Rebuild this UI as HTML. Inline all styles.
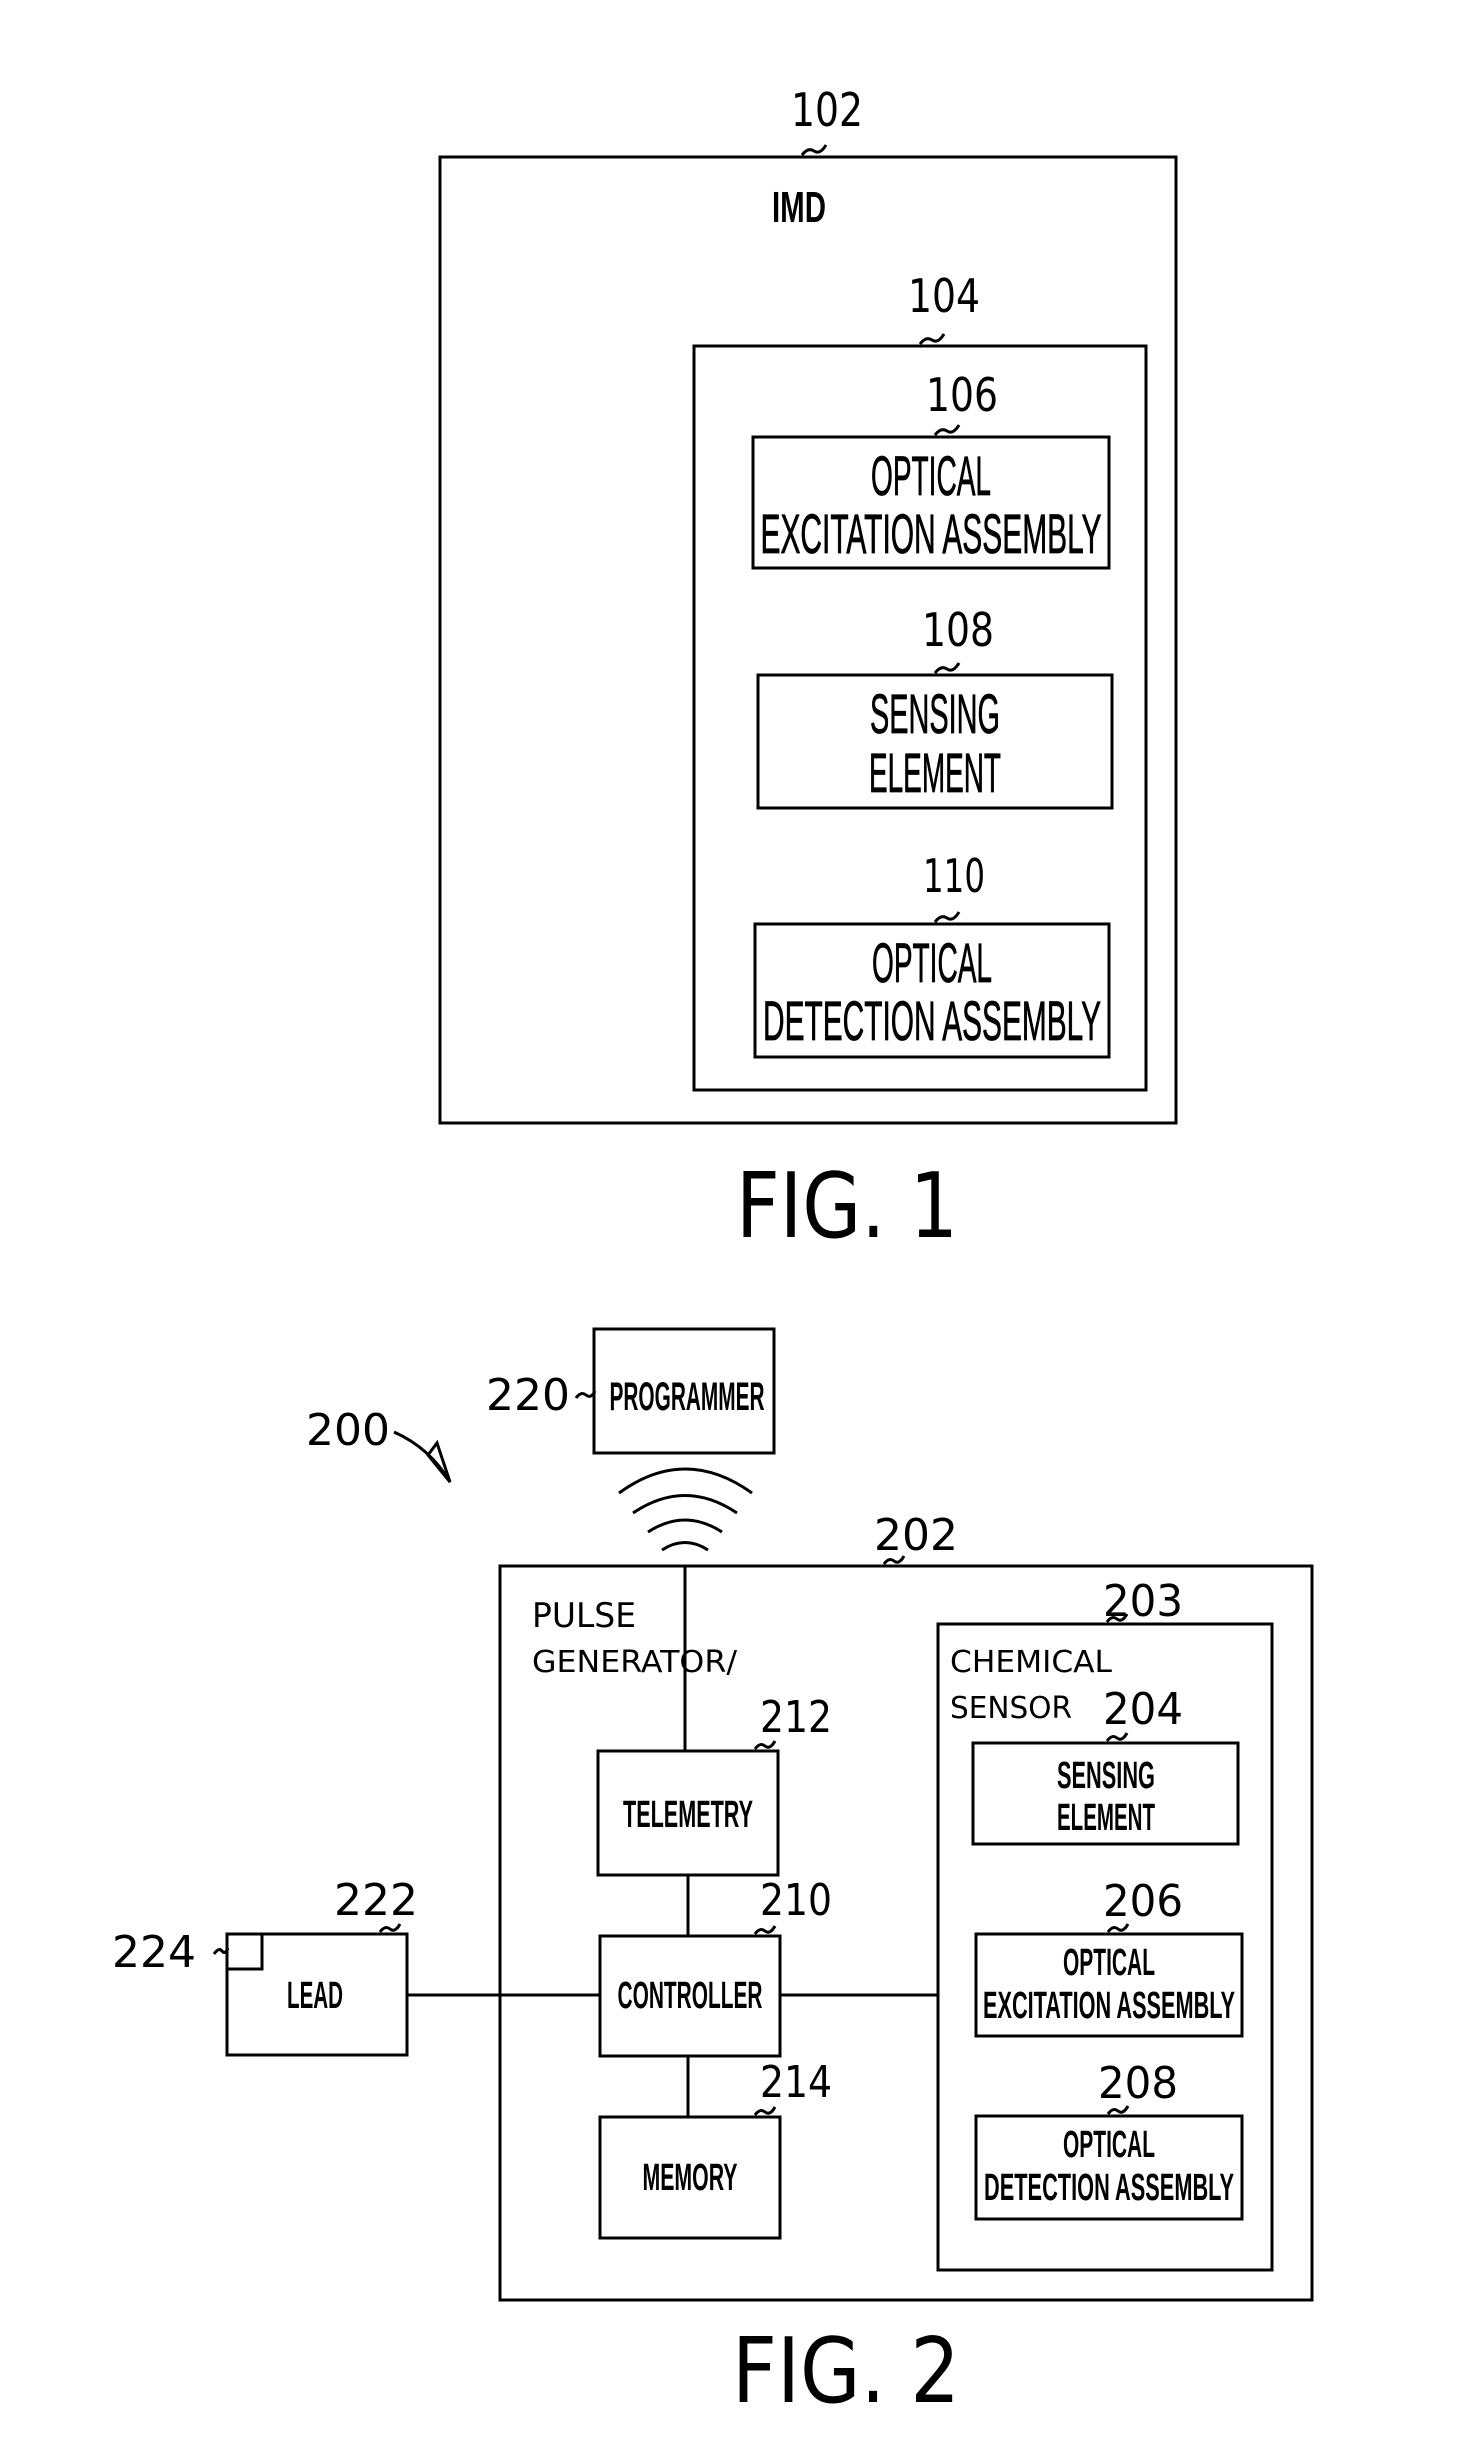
<!DOCTYPE html>
<html><head><meta charset="utf-8"><style>
html,body{margin:0;padding:0;background:#fff}
svg{display:block}
.b{font-family:"Liberation Sans",sans-serif;font-weight:bold;fill:#000}
.m{font-family:"Liberation Sans",sans-serif;font-weight:normal;fill:#000;stroke:#000;stroke-width:0.8}
.n{font-family:"DejaVu Sans","Liberation Sans",sans-serif;font-weight:normal;fill:#000}
</style></head><body>
<svg width="1472" height="2442" viewBox="0 0 1472 2442" xmlns="http://www.w3.org/2000/svg">
<g fill="none" stroke="#000" stroke-width="3">
<rect x="440" y="157" width="736" height="966"/>
<rect x="694" y="346" width="452" height="744"/>
<rect x="753" y="437" width="356" height="131"/>
<rect x="758" y="675" width="354" height="133"/>
<rect x="755" y="924" width="354" height="133"/>
<path d="M802,155 q6,-8 12,-4 t12,-6"/>
<path d="M920,344 q6,-8 12,-4 t12,-6"/>
<path d="M935,435 q6,-8 12,-4 t12,-6"/>
<path d="M935,673 q6,-8 12,-4 t12,-6"/>
<path d="M935,922 q6,-8 12,-4 t12,-6"/>
<rect x="594" y="1329" width="180" height="124"/>
<rect x="500" y="1566" width="812" height="734"/>
<rect x="938" y="1624" width="334" height="646"/>
<rect x="598" y="1751" width="180" height="124"/>
<rect x="600" y="1936" width="180" height="120"/>
<rect x="600" y="2117" width="180" height="121"/>
<rect x="227" y="1934" width="180" height="121"/>
<rect x="227" y="1934" width="35" height="35"/>
<rect x="973" y="1743" width="265" height="101"/>
<rect x="976" y="1934" width="266" height="102"/>
<rect x="976" y="2116" width="266" height="103"/>
<line x1="685" y1="1566" x2="685" y2="1751"/>
<line x1="688" y1="1875" x2="688" y2="1936"/>
<line x1="688" y1="2056" x2="688" y2="2117"/>
<line x1="407" y1="1995" x2="600" y2="1995"/>
<line x1="780" y1="1995" x2="938" y2="1995"/>
<path d="M619,1493 Q685,1445 752,1493"/>
<path d="M633,1513 Q685,1478 737,1513"/>
<path d="M648,1532 Q685,1508 722,1532"/>
<path d="M662,1550 Q685,1535 708,1550"/>
<path d="M394,1432 Q430,1448 450,1482"/>
<path d="M428,1455 L437,1443 L450,1482 Z"/>
<path d="M576,1398 q5,-7 10,-3 t9,-4"/>
<path d="M884,1564 q5,-7 10,-3 t10,-5"/>
<path d="M1107,1622 q5,-7 10,-3 t10,-5"/>
<path d="M1107,1741 q5,-7 10,-3 t10,-5"/>
<path d="M1108,1932 q5,-7 10,-3 t10,-5"/>
<path d="M1108,2114 q5,-7 10,-3 t10,-5"/>
<path d="M755,1749 q5,-7 10,-3 t10,-5"/>
<path d="M755,1934 q5,-7 10,-3 t10,-5"/>
<path d="M755,2115 q5,-7 10,-3 t10,-5"/>
<path d="M380,1932 q5,-7 10,-3 t10,-5"/>
<path d="M214,1954 q5,-7 8,-3 t6,-3"/>
</g>
<text class="n" x="827" y="126" font-size="46" text-anchor="middle" textLength="72" lengthAdjust="spacingAndGlyphs">102</text>
<text class="b" x="799" y="222" font-size="44" text-anchor="middle" textLength="54" lengthAdjust="spacingAndGlyphs">IMD</text>
<text class="n" x="944" y="312" font-size="46" text-anchor="middle" textLength="72" lengthAdjust="spacingAndGlyphs">104</text>
<text class="n" x="962" y="411" font-size="46" text-anchor="middle" textLength="72" lengthAdjust="spacingAndGlyphs">106</text>
<text class="m" x="931" y="495" font-size="56" text-anchor="middle" textLength="120" lengthAdjust="spacingAndGlyphs">OPTICAL</text>
<text class="m" x="931" y="553" font-size="56" text-anchor="middle" textLength="341" lengthAdjust="spacingAndGlyphs">EXCITATION  ASSEMBLY</text>
<text class="n" x="958" y="646" font-size="46" text-anchor="middle" textLength="72" lengthAdjust="spacingAndGlyphs">108</text>
<text class="m" x="935" y="733" font-size="56" text-anchor="middle" textLength="130" lengthAdjust="spacingAndGlyphs">SENSING</text>
<text class="m" x="935" y="792" font-size="56" text-anchor="middle" textLength="132" lengthAdjust="spacingAndGlyphs">ELEMENT</text>
<text class="n" x="954" y="892" font-size="46" text-anchor="middle" textLength="62" lengthAdjust="spacingAndGlyphs">110</text>
<text class="m" x="932" y="982" font-size="56" text-anchor="middle" textLength="120" lengthAdjust="spacingAndGlyphs">OPTICAL</text>
<text class="m" x="932" y="1040" font-size="56" text-anchor="middle" textLength="338" lengthAdjust="spacingAndGlyphs">DETECTION  ASSEMBLY</text>
<text class="n" x="847" y="1237" font-size="90" text-anchor="middle" textLength="222" lengthAdjust="spacingAndGlyphs">FIG. 1</text>
<text class="n" x="528" y="1410" font-size="44" text-anchor="middle" textLength="84" lengthAdjust="spacingAndGlyphs">220</text>
<text class="b" x="687" y="1410" font-size="40" text-anchor="middle" textLength="155" lengthAdjust="spacingAndGlyphs">PROGRAMMER</text>
<text class="n" x="348" y="1445" font-size="44" text-anchor="middle" textLength="84" lengthAdjust="spacingAndGlyphs">200</text>
<text class="n" x="916" y="1550" font-size="44" text-anchor="middle" textLength="84" lengthAdjust="spacingAndGlyphs">202</text>
<text class="n" x="532" y="1627" font-size="34" textLength="104" lengthAdjust="spacingAndGlyphs">PULSE</text>
<text class="n" x="532" y="1672" font-size="30" textLength="205" lengthAdjust="spacingAndGlyphs">GENERATOR/</text>
<text class="n" x="1143" y="1616" font-size="44" text-anchor="middle" textLength="80" lengthAdjust="spacingAndGlyphs">203</text>
<text class="n" x="950" y="1672" font-size="30" textLength="162" lengthAdjust="spacingAndGlyphs">CHEMICAL</text>
<text class="n" x="950" y="1718" font-size="30" textLength="122" lengthAdjust="spacingAndGlyphs">SENSOR</text>
<text class="n" x="1143" y="1724" font-size="44" text-anchor="middle" textLength="80" lengthAdjust="spacingAndGlyphs">204</text>
<text class="b" x="1106" y="1788" font-size="38" text-anchor="middle" textLength="98" lengthAdjust="spacingAndGlyphs">SENSING</text>
<text class="b" x="1106" y="1830" font-size="38" text-anchor="middle" textLength="98" lengthAdjust="spacingAndGlyphs">ELEMENT</text>
<text class="n" x="796" y="1732" font-size="44" text-anchor="middle" textLength="72" lengthAdjust="spacingAndGlyphs">212</text>
<text class="b" x="688" y="1827" font-size="38" text-anchor="middle" textLength="130" lengthAdjust="spacingAndGlyphs">TELEMETRY</text>
<text class="n" x="796" y="1915" font-size="44" text-anchor="middle" textLength="72" lengthAdjust="spacingAndGlyphs">210</text>
<text class="b" x="690" y="2008" font-size="38" text-anchor="middle" textLength="145" lengthAdjust="spacingAndGlyphs">CONTROLLER</text>
<text class="n" x="796" y="2097" font-size="44" text-anchor="middle" textLength="72" lengthAdjust="spacingAndGlyphs">214</text>
<text class="b" x="690" y="2190" font-size="38" text-anchor="middle" textLength="95" lengthAdjust="spacingAndGlyphs">MEMORY</text>
<text class="n" x="376" y="1915" font-size="44" text-anchor="middle" textLength="84" lengthAdjust="spacingAndGlyphs">222</text>
<text class="n" x="154" y="1967" font-size="44" text-anchor="middle" textLength="84" lengthAdjust="spacingAndGlyphs">224</text>
<text class="b" x="315" y="2008" font-size="38" text-anchor="middle" textLength="56" lengthAdjust="spacingAndGlyphs">LEAD</text>
<text class="n" x="1143" y="1916" font-size="44" text-anchor="middle" textLength="80" lengthAdjust="spacingAndGlyphs">206</text>
<text class="b" x="1109" y="1975" font-size="38" text-anchor="middle" textLength="92" lengthAdjust="spacingAndGlyphs">OPTICAL</text>
<text class="b" x="1109" y="2018" font-size="38" text-anchor="middle" textLength="252" lengthAdjust="spacingAndGlyphs">EXCITATION  ASSEMBLY</text>
<text class="n" x="1138" y="2098" font-size="44" text-anchor="middle" textLength="80" lengthAdjust="spacingAndGlyphs">208</text>
<text class="b" x="1109" y="2157" font-size="38" text-anchor="middle" textLength="92" lengthAdjust="spacingAndGlyphs">OPTICAL</text>
<text class="b" x="1109" y="2200" font-size="38" text-anchor="middle" textLength="250" lengthAdjust="spacingAndGlyphs">DETECTION  ASSEMBLY</text>
<text class="n" x="846" y="2402" font-size="90" text-anchor="middle" textLength="228" lengthAdjust="spacingAndGlyphs">FIG. 2</text>
</svg>
</body></html>
